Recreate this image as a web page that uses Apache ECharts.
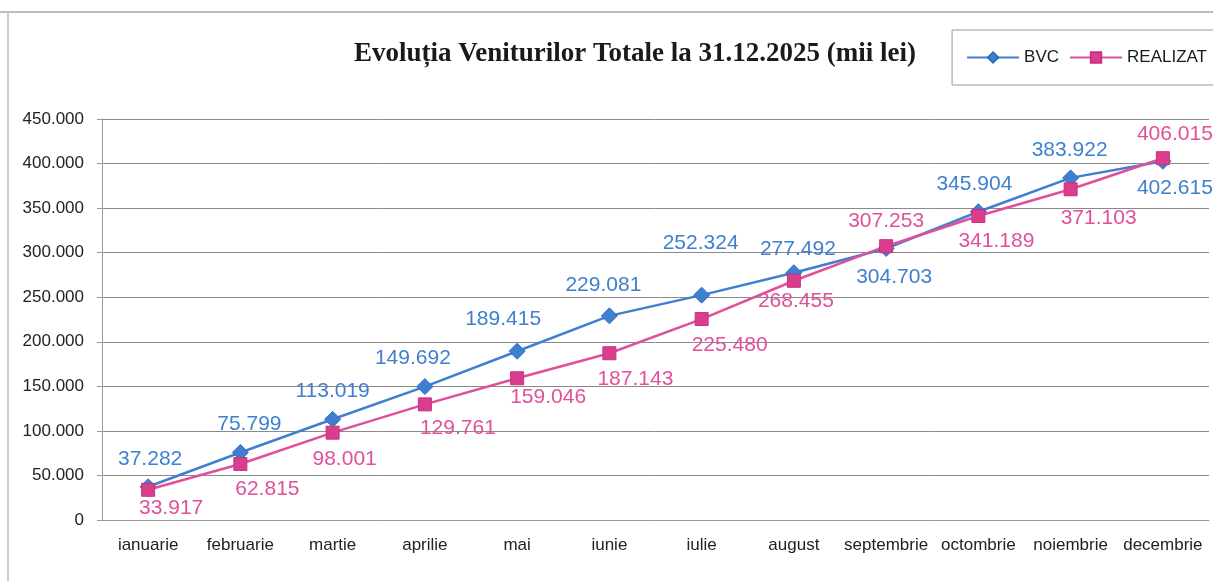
<!DOCTYPE html>
<html>
<head>
<meta charset="utf-8">
<script src="https://cdn.jsdelivr.net/npm/echarts@6/dist/echarts.min.js"></script>
<style>
  html, body { margin: 0; padding: 0; background: #fff; }
  #chart { width: 1213px; height: 581px; }
</style>
</head>
<body>
<div id="chart"></div>
<script>
const luni = ['ianuarie', 'februarie', 'martie', 'aprilie', 'mai', 'iunie', 'iulie', 'august', 'septembrie', 'octombrie', 'noiembrie', 'decembrie'];
const bvc = [37282, 75799, 113019, 149692, 189415, 229081, 252324, 277492, 304703, 345904, 383922, 402615];
const realizat = [33917, 62815, 98001, 129761, 159046, 187143, 225480, 268455, 307253, 341189, 371103, 406015];

// pozitii etichete (cum au fost mutate in Excel)
const bvcPos = [
  ['top', 2, -4], ['top', 9, -4], ['top', 0, -4], ['top', -12, -4], ['top', -14, -8], ['top', -6, -7],
  ['top', -1, -28], ['top', 4, 0], ['bottom', 8, 5], ['top', -4, -4], ['top', -1, -4], ['bottom', 12, 3]
];
const realPos = [
  ['bottom', 23, -4], ['bottom', 27, 3], ['bottom', 12, 4], ['bottom', 33, 1], ['bottom', 31, -4], ['bottom', 26, 3],
  ['bottom', 28, 4], ['bottom', 2, -2], ['top', 0, -3], ['bottom', 18, 3], ['bottom', 28, 6], ['top', 12, -1]
];

const fmt = v => v.toLocaleString('de-DE');

function withLabels(values, pos) {
  return values.map((v, i) => ({
    value: v,
    label: { position: pos[i][0], offset: [pos[i][1], pos[i][2]] }
  }));
}

const chart = echarts.init(document.getElementById('chart'));

chart.setOption({
  backgroundColor: '#fff',
  animation: false,
  title: {
    text: 'Evoluția Veniturilor Totale la 31.12.2025 (mii lei)',
    left: 630,
    top: 36,
    textAlign: 'center',
    textStyle: {
      fontFamily: 'Liberation Serif',
      fontWeight: 'bold',
      fontSize: 27,
      color: '#1a1a1a'
    }
  },
  legend: {
    right: -14,
    top: 30,
    itemWidth: 52,
    itemHeight: 13,
    itemGap: 10,
    padding: [19, 20, 19, 14],
    borderColor: '#9a9a9a',
    borderWidth: 1,
    textStyle: { fontFamily: 'Liberation Sans', fontSize: 17, color: '#1a1a1a' },
    data: ['BVC', 'REALIZAT']
  },
  graphic: [
    { type: 'line', shape: { x1: 0, y1: 12, x2: 1213, y2: 12 }, style: { stroke: '#bbb', lineWidth: 2 } },
    { type: 'line', shape: { x1: 8, y1: 12, x2: 8, y2: 581 }, style: { stroke: '#ccc', lineWidth: 2 } }
  ],
  grid: { left: 102, right: 4, top: 119, bottom: 61, containLabel: false },
  xAxis: {
    type: 'category',
    data: luni,
    boundaryGap: true,
    axisLine: { lineStyle: { color: '#999' } },
    axisTick: { show: false },
    axisLabel: { interval: 0, fontFamily: 'Liberation Sans', fontSize: 17, color: '#222', margin: 17 }
  },
  yAxis: {
    type: 'value',
    min: 0,
    max: 450000,
    interval: 50000,
    axisLine: { show: true, lineStyle: { color: '#999' } },
    axisTick: { show: true, length: 5, lineStyle: { color: '#999' } },
    axisLabel: {
      fontFamily: 'Liberation Sans',
      fontSize: 17,
      color: '#222',
      margin: 18,
      formatter: v => v === 0 ? '0' : fmt(v)
    },
    splitLine: { lineStyle: { color: '#8a8a8a', width: 1 } }
  },
  series: [
    {
      name: 'BVC',
      type: 'line',
      data: withLabels(bvc, bvcPos),
      symbol: 'diamond',
      symbolSize: 16,
      lineStyle: { color: '#3f7fd0', width: 2.5 },
      itemStyle: { color: '#3f7fd0', borderColor: '#2f6fc0', borderWidth: 1 },
      label: {
        show: true,
        fontFamily: 'Liberation Sans',
        fontSize: 21,
        color: '#3f7fd0',
        formatter: p => fmt(p.value)
      },
      z: 3
    },
    {
      name: 'REALIZAT',
      type: 'line',
      data: withLabels(realizat, realPos),
      symbol: 'rect',
      symbolSize: 13,
      lineStyle: { color: '#e0509a', width: 2.5 },
      itemStyle: { color: '#d83e8c', borderColor: '#c83080', borderWidth: 1 },
      label: {
        show: true,
        fontFamily: 'Liberation Sans',
        fontSize: 21,
        color: '#e0509a',
        formatter: p => fmt(p.value)
      },
      z: 4
    }
  ]
});

window.addEventListener('resize', () => chart.resize());
</script>
</body>
</html>
